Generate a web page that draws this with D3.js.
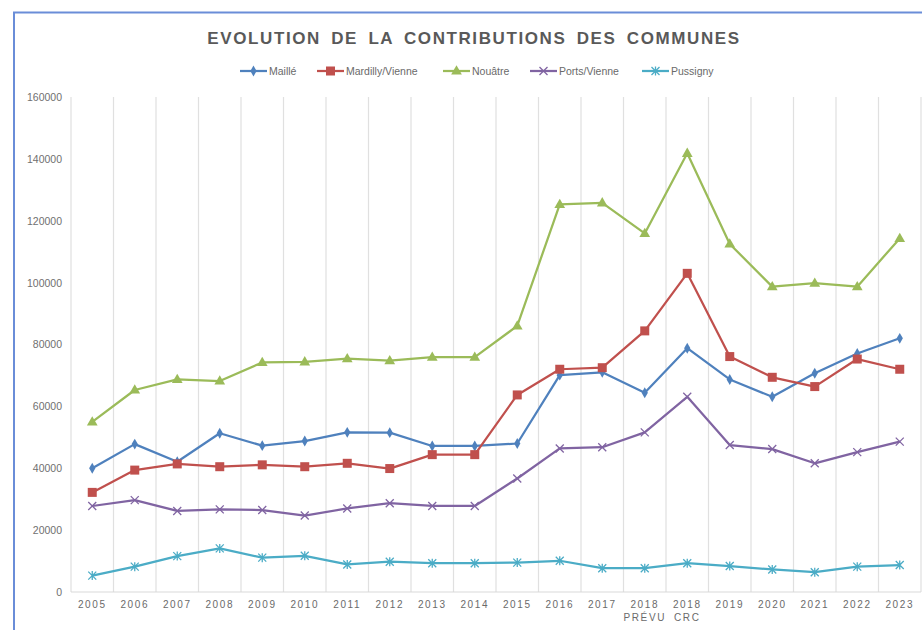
<!DOCTYPE html>
<html>
<head>
<meta charset="utf-8">
<script src="https://cdnjs.cloudflare.com/ajax/libs/d3/7.8.5/d3.min.js"></script>
<style>
    body { margin: 0; background: #fff; }
    svg { display: block; }
    text { font-family: "Liberation Sans", "DejaVu Sans", sans-serif; fill: #595959; }
</style>
</head>
<body>
<div id="chart"></div>
<script>
// catégories (axe X)
var years = ["2005", "2006", "2007", "2008", "2009", "2010", "2011", "2012", "2013", "2014",
    "2015", "2016", "2017", "2018 PRÉVU", "2018 CRC", "2019", "2020", "2021", "2022", "2023"];

// valeurs
var maille = [40000, 47800, 42100, 51300, 47300, 48800, 51600, 51500, 47200, 47200,
    48000, 70100, 71000, 64400, 78800, 68700, 63100, 70700, 77100, 82000];
var mardilly = [32200, 39400, 41400, 40500, 41100, 40500, 41600, 39900, 44400, 44400,
    63700, 72000, 72500, 84400, 103000, 76100, 69400, 66400, 75300, 72000];
var nouatre = [55000, 65300, 68700, 68200, 74200, 74400, 75400, 74800, 75900, 75900,
    86000, 125300, 125800, 115900, 141800, 112500, 98700, 99800, 98700, 114300];
var ports = [27800, 29700, 26200, 26700, 26500, 24700, 27000, 28700, 27800, 27800,
    36700, 46400, 46800, 51600, 63100, 47500, 46200, 41600, 45200, 48600];
var pussigny = [5300, 8200, 11600, 14100, 11100, 11700, 8900, 9800, 9300, 9300,
    9500, 10100, 7700, 7700, 9300, 8400, 7300, 6400, 8200, 8700];

var yTicks = [0, 20000, 40000, 60000, 80000, 100000, 120000, 140000, 160000];

var series = [
    { name: "Maillé", values: maille, color: "#4F81BD", marker: "diamond" },
    { name: "Mardilly/Vienne", values: mardilly, color: "#C0504D", marker: "square" },
    { name: "Nouâtre", values: nouatre, color: "#9BBB59", marker: "triangle" },
    { name: "Ports/Vienne", values: ports, color: "#8064A2", marker: "cross" },
    { name: "Pussigny", values: pussigny, color: "#4BACC6", marker: "star" }
];

var width = 922, height = 630;
var margin = { top: 97, right: 1, bottom: 38, left: 71 };

var svg = d3.select("#chart").append("svg")
    .attr("width", width)
    .attr("height", height);

// bordure bleue (sélection du graphique)
svg.append("path")
    .attr("d", "M14,630 L14,12.5 L922,12.5")
    .attr("fill", "none")
    .attr("stroke", "#6A8DD8")
    .attr("stroke-width", 2);

var x = d3.scaleBand()
    .domain(years)
    .range([margin.left, width - margin.right]);

var y = d3.scaleLinear()
    .domain([0, 160000])
    .range([height - margin.bottom, margin.top]);

// titre
svg.append("text")
    .attr("x", 474)
    .attr("y", 44)
    .attr("text-anchor", "middle")
    .style("font-size", "17px")
    .style("font-weight", "bold")
    .style("letter-spacing", "1.6px")
    .style("word-spacing", "4px")
    .text("EVOLUTION DE LA CONTRIBUTIONS DES COMMUNES");

// grille verticale
svg.append("g")
    .selectAll("line")
    .data(years.concat(["end"]))
    .enter()
    .append("line")
    .attr("x1", function(d, i) { return margin.left + i * x.bandwidth(); })
    .attr("x2", function(d, i) { return margin.left + i * x.bandwidth(); })
    .attr("y1", y(160000))
    .attr("y2", y(0))
    .attr("stroke", "#E0E0E0")
    .attr("stroke-width", 1.2);

// ligne de base
svg.append("line")
    .attr("x1", margin.left)
    .attr("x2", width - margin.right)
    .attr("y1", y(0))
    .attr("y2", y(0))
    .attr("stroke", "#D9D9D9");

// axe Y
var yAxis = svg.append("g")
    .attr("transform", "translate(" + (margin.left - 9) + ",0)")
    .call(d3.axisLeft(y).tickValues(yTicks).tickSize(0).tickPadding(0).tickFormat(d3.format("d")));
yAxis.select(".domain").remove();
yAxis.selectAll("text")
    .style("font-size", "10.5px")
    .style("fill", "#707070")
    .style("font-family", "Liberation Sans, sans-serif");

// axe X (deux lignes pour 2018)
var xAxis = svg.append("g")
    .attr("transform", "translate(0," + (y(0) + 9) + ")")
    .call(d3.axisBottom(x).tickSize(0).tickPadding(0).tickFormat(""));
xAxis.select(".domain").remove();
xAxis.selectAll(".tick").each(function(d) {
    var parts = d.split(" ");
    var t = d3.select(this).append("text")
        .attr("text-anchor", "middle")
        .style("font-size", "10px")
        .style("letter-spacing", "1.6px")
        .style("fill", "#6A6A6A");
    parts.forEach(function(p, k) {
        t.append("tspan")
            .attr("x", 0)
            .attr("dy", k == 0 ? "0.71em" : "1.3em")
            .text(p);
    });
});

var cx = function(i) { return x(years[i]) + x.bandwidth() / 2; };

// symboles des marqueurs
function drawMarker(g, type, color, px, py) {
    if (type == "diamond") {
        g.append("path").attr("d", d3.symbol(d3.symbolDiamond, 34)())
            .attr("transform", "translate(" + px + "," + py + ")").attr("fill", color);
    } else if (type == "square") {
        g.append("rect").attr("x", px - 4.5).attr("y", py - 4.5)
            .attr("width", 9).attr("height", 9).attr("fill", color);
    } else if (type == "triangle") {
        g.append("path").attr("d", d3.symbol(d3.symbolTriangle, 50)())
            .attr("transform", "translate(" + px + "," + (py + 0.5) + ")").attr("fill", color);
    } else if (type == "cross") {
        g.append("path").attr("d", "M-4,-4L4,4M-4,4L4,-4")
            .attr("transform", "translate(" + px + "," + py + ")")
            .attr("stroke", color).attr("stroke-width", 1.3).attr("fill", "none");
    } else if (type == "star") {
        g.append("path").attr("d", "M-4,-4L4,4M-4,4L4,-4M0,-4.5L0,4.5")
            .attr("transform", "translate(" + px + "," + py + ")")
            .attr("stroke", color).attr("stroke-width", 1.3).attr("fill", "none");
    }
}

var line = d3.line()
    .x(function(d, i) { return cx(i); })
    .y(function(d) { return y(d); });

// courbes
series.forEach(function(s) {
    var g = svg.append("g");
    g.append("path")
        .datum(s.values)
        .attr("d", line)
        .attr("fill", "none")
        .attr("stroke", s.color)
        .attr("stroke-width", 2.25)
        .attr("stroke-linejoin", "round");
    s.values.forEach(function(v, i) {
        drawMarker(g, s.marker, s.color, cx(i), y(v));
    });
});

// légende
var legendX = [240, 317, 443, 530, 642];
var legend = svg.append("g");
series.forEach(function(s, i) {
    var lg = legend.append("g");
    lg.append("line")
        .attr("x1", legendX[i]).attr("x2", legendX[i] + 27)
        .attr("y1", 71).attr("y2", 71)
        .attr("stroke", s.color).attr("stroke-width", 2.25);
    drawMarker(lg, s.marker, s.color, legendX[i] + 13.5, 71);
    lg.append("text")
        .attr("x", legendX[i] + 29)
        .attr("y", 74.5)
        .style("font-size", "10.5px")
        .style("fill", "#6A6A6A")
        .text(s.name);
});
</script>
</body>
</html>
